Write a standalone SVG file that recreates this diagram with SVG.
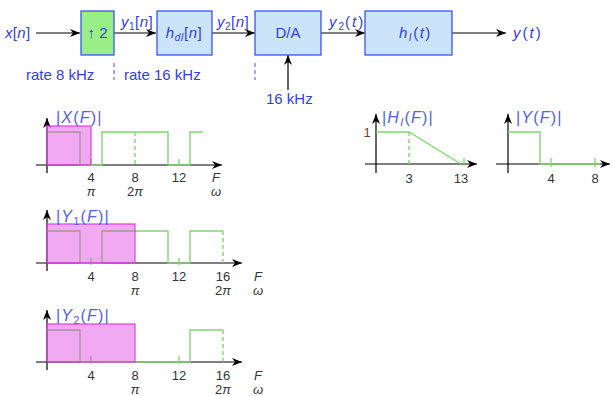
<svg xmlns="http://www.w3.org/2000/svg" width="615" height="396" viewBox="0 0 615 396">
<style>
text{font-family:"Liberation Sans",Arial,sans-serif}
.bt{fill:#3340e0;font-size:15px}
.it{font-style:italic}
.box{fill:#cce4fa;stroke:#3a55ee;stroke-width:1.3}
.up{fill:#99ee88;stroke:#3a55ee;stroke-width:1.3}
.con{stroke:#000;stroke-width:1.2;fill:none}
.ax{stroke:#000;stroke-width:1.2;fill:none}
.g{stroke:#80d870;stroke-width:1.4;fill:none}
.gd{stroke:#80d870;stroke-width:1.4;fill:none;stroke-dasharray:4,3}
.mg{fill:#e040e0;fill-opacity:0.45;stroke:#e040e0;stroke-width:1.2}
.num{fill:#333;font-size:13px;text-anchor:middle}
.lab{fill:#5060ee;font-size:16px;letter-spacing:1.2px}
.dash{stroke:#3a55ee;stroke-width:1;stroke-dasharray:4,3}
</style>
<defs>
<marker id="ah" viewBox="0 0 10 8" refX="10" refY="4" markerWidth="10" markerHeight="8" markerUnits="userSpaceOnUse" orient="auto">
<path d="M0,0 L10,4 L0,8 L3,4 z" fill="#000"/>
</marker>
</defs>

<g id="connectors">
<line class="con" x1="36" y1="33" x2="80" y2="33" marker-end="url(#ah)"/>
<line class="con" x1="114" y1="33" x2="156" y2="33" marker-end="url(#ah)"/>
<line class="con" x1="212" y1="33" x2="255" y2="33" marker-end="url(#ah)"/>
<line class="con" x1="321" y1="33" x2="365" y2="33" marker-end="url(#ah)"/>
<line class="con" x1="452" y1="33" x2="506" y2="33" marker-end="url(#ah)"/>
<line class="con" x1="288" y1="90" x2="288" y2="55" marker-end="url(#ah)"/>
<text class="bt" x="5" y="38" letter-spacing="0.3"><tspan class="it">x</tspan>[<tspan class="it">n</tspan>]</text>
<text class="bt" x="121" y="27" letter-spacing="0.5"><tspan class="it">y</tspan><tspan font-size="10" dy="3">1</tspan><tspan dy="-3">[</tspan><tspan class="it">n</tspan>]</text>
<text class="bt" x="217" y="27" letter-spacing="0.5"><tspan class="it">y</tspan><tspan font-size="10" dy="3">2</tspan><tspan dy="-3">[</tspan><tspan class="it">n</tspan>]</text>
<text class="bt" x="329" y="27" letter-spacing="2"><tspan class="it">y</tspan><tspan font-size="10" dy="3" letter-spacing="1">2</tspan><tspan dy="-3">(</tspan><tspan class="it">t</tspan>)</text>
<text class="bt" x="513" y="38" letter-spacing="2"><tspan class="it">y</tspan>(<tspan class="it">t</tspan>)</text>
<text class="bt" x="26" y="80">rate 8 kHz</text>
<text class="bt" x="124" y="80">rate 16 kHz</text>
<text class="bt" x="266" y="104" font-size="14.5">16 kHz</text>
<line class="dash" x1="114" y1="63" x2="114" y2="80"/>
<line class="dash" x1="255" y1="63" x2="255" y2="80"/>
</g>

<g id="upsampler">
<rect class="up" x="81" y="11" width="33" height="44"/>
<text class="bt" x="97.5" y="38" text-anchor="middle">↑ 2</text>
</g>
<g id="hdI">
<rect class="box" x="157" y="11" width="55" height="44"/>
<text class="bt" x="184" y="38" text-anchor="middle" letter-spacing="0.5"><tspan class="it">h</tspan><tspan class="it" font-size="10" dy="3">dI</tspan><tspan dy="-3">[</tspan><tspan class="it">n</tspan>]</text>
</g>
<g id="da">
<rect class="box" x="255" y="11" width="66" height="44"/>
<text class="bt" x="288" y="38" text-anchor="middle">D/A</text>
</g>
<g id="hI">
<rect class="box" x="365" y="11" width="87" height="44"/>
<text class="bt" x="399" y="38" letter-spacing="1.5"><tspan class="it">h</tspan><tspan class="it" font-size="10" dy="3">I</tspan><tspan dy="-3">(</tspan><tspan class="it">t</tspan>)</text>
</g>

<!-- Plot X -->
<g id="plotX">
<line class="ax" x1="36" y1="165" x2="222" y2="165" marker-end="url(#ah)"/>
<line class="ax" x1="47" y1="173" x2="47" y2="118" marker-end="url(#ah)"/>
<path class="g" d="M47,132 L80,132 L80,165 L102,165 L102,132 L168,132 L168,165 L190,165 L190,132 L203,132"/>
<line class="gd" x1="135" y1="132" x2="135" y2="165"/>
<line class="g" x1="91" y1="159" x2="91" y2="166"/>
<line class="g" x1="179" y1="159" x2="179" y2="166"/>
<rect class="mg" x="47" y="126" width="44" height="39"/>
<text class="lab" x="56" y="123">|<tspan class="it">X</tspan>(<tspan class="it">F</tspan>)|</text>
<text class="num" x="91" y="182">4</text>
<text class="num" x="135" y="182">8</text>
<text class="num" x="179" y="182">12</text>
<text class="num it" x="216" y="182">F</text>
<text class="num it" x="91" y="196">π</text>
<text class="num" x="135" y="196">2<tspan class="it">π</tspan></text>
<text class="num it" x="216" y="196">ω</text>
</g>

<!-- Plot Y1 -->
<g id="plotY1">
<line class="ax" x1="36" y1="263" x2="242" y2="263" marker-end="url(#ah)"/>
<line class="ax" x1="47" y1="271" x2="47" y2="210" marker-end="url(#ah)"/>
<path class="g" d="M47,231 L80,231 L80,263 L102,263 L102,231 L168,231 L168,263 L190,263 L190,231 L223,231"/>
<line class="gd" x1="223" y1="231" x2="223" y2="263"/>
<line class="g" x1="91" y1="258" x2="91" y2="265"/>
<line class="g" x1="179" y1="258" x2="179" y2="265"/>
<rect class="mg" x="47" y="224" width="88" height="39"/>
<text class="lab" x="56" y="222">|<tspan class="it">Y</tspan><tspan font-size="11" dy="3">1</tspan><tspan dy="-3">(</tspan><tspan class="it">F</tspan>)|</text>
<text class="num" x="91" y="281">4</text>
<text class="num" x="135" y="281">8</text>
<text class="num" x="179" y="281">12</text>
<text class="num" x="223" y="281">16</text>
<text class="num it" x="258" y="281">F</text>
<text class="num it" x="135" y="295">π</text>
<text class="num" x="223" y="295">2<tspan class="it">π</tspan></text>
<text class="num it" x="258" y="295">ω</text>
</g>

<!-- Plot Y2 -->
<g id="plotY2">
<line class="ax" x1="36" y1="362" x2="242" y2="362" marker-end="url(#ah)"/>
<line class="ax" x1="47" y1="370" x2="47" y2="310" marker-end="url(#ah)"/>
<path class="g" d="M47,330 L80,330 L80,362 L190,362 L190,330 L223,330"/>
<line class="gd" x1="223" y1="330" x2="223" y2="362"/>
<line class="g" x1="91" y1="356" x2="91" y2="364"/>
<line class="g" x1="179" y1="356" x2="179" y2="364"/>
<rect class="mg" x="47" y="324" width="88" height="38"/>
<text class="lab" x="56" y="321">|<tspan class="it">Y</tspan><tspan font-size="11" dy="3">2</tspan><tspan dy="-3">(</tspan><tspan class="it">F</tspan>)|</text>
<text class="num" x="91" y="380">4</text>
<text class="num" x="135" y="380">8</text>
<text class="num" x="179" y="380">12</text>
<text class="num" x="223" y="380">16</text>
<text class="num it" x="258" y="380">F</text>
<text class="num it" x="135" y="394">π</text>
<text class="num" x="223" y="394">2<tspan class="it">π</tspan></text>
<text class="num it" x="258" y="394">ω</text>
</g>

<!-- Plot H -->
<g id="plotH">
<line class="ax" x1="365" y1="164" x2="477" y2="164" marker-end="url(#ah)"/>
<line class="ax" x1="376" y1="173" x2="376" y2="114" marker-end="url(#ah)"/>
<path class="g" d="M376,132 L409,132 L461,164"/>
<line class="gd" x1="409" y1="132" x2="409" y2="164"/>
<line class="g" x1="464" y1="158" x2="464" y2="166"/>
<text class="lab" x="382" y="123">|<tspan class="it">H</tspan><tspan class="it" font-size="11" dy="3">I</tspan><tspan dy="-3">(</tspan><tspan class="it">F</tspan>)|</text>
<text class="num" x="367" y="137" style="fill:#7a3b1a">1</text>
<text class="num" x="409" y="183">3</text>
<text class="num" x="461" y="183">13</text>
</g>

<!-- Plot Y -->
<g id="plotY">
<line class="ax" x1="496" y1="164" x2="610" y2="164" marker-end="url(#ah)"/>
<line class="ax" x1="508" y1="173" x2="508" y2="114" marker-end="url(#ah)"/>
<path class="g" d="M508,132 L540,132 L540,164 L600,164"/>
<line class="g" x1="551" y1="158" x2="551" y2="167"/>
<line class="g" x1="595" y1="158" x2="595" y2="167"/>
<text class="lab" x="516" y="123">|<tspan class="it">Y</tspan>(<tspan class="it">F</tspan>)|</text>
<text class="num" x="551" y="183">4</text>
<text class="num" x="595" y="183">8</text>
</g>
</svg>
